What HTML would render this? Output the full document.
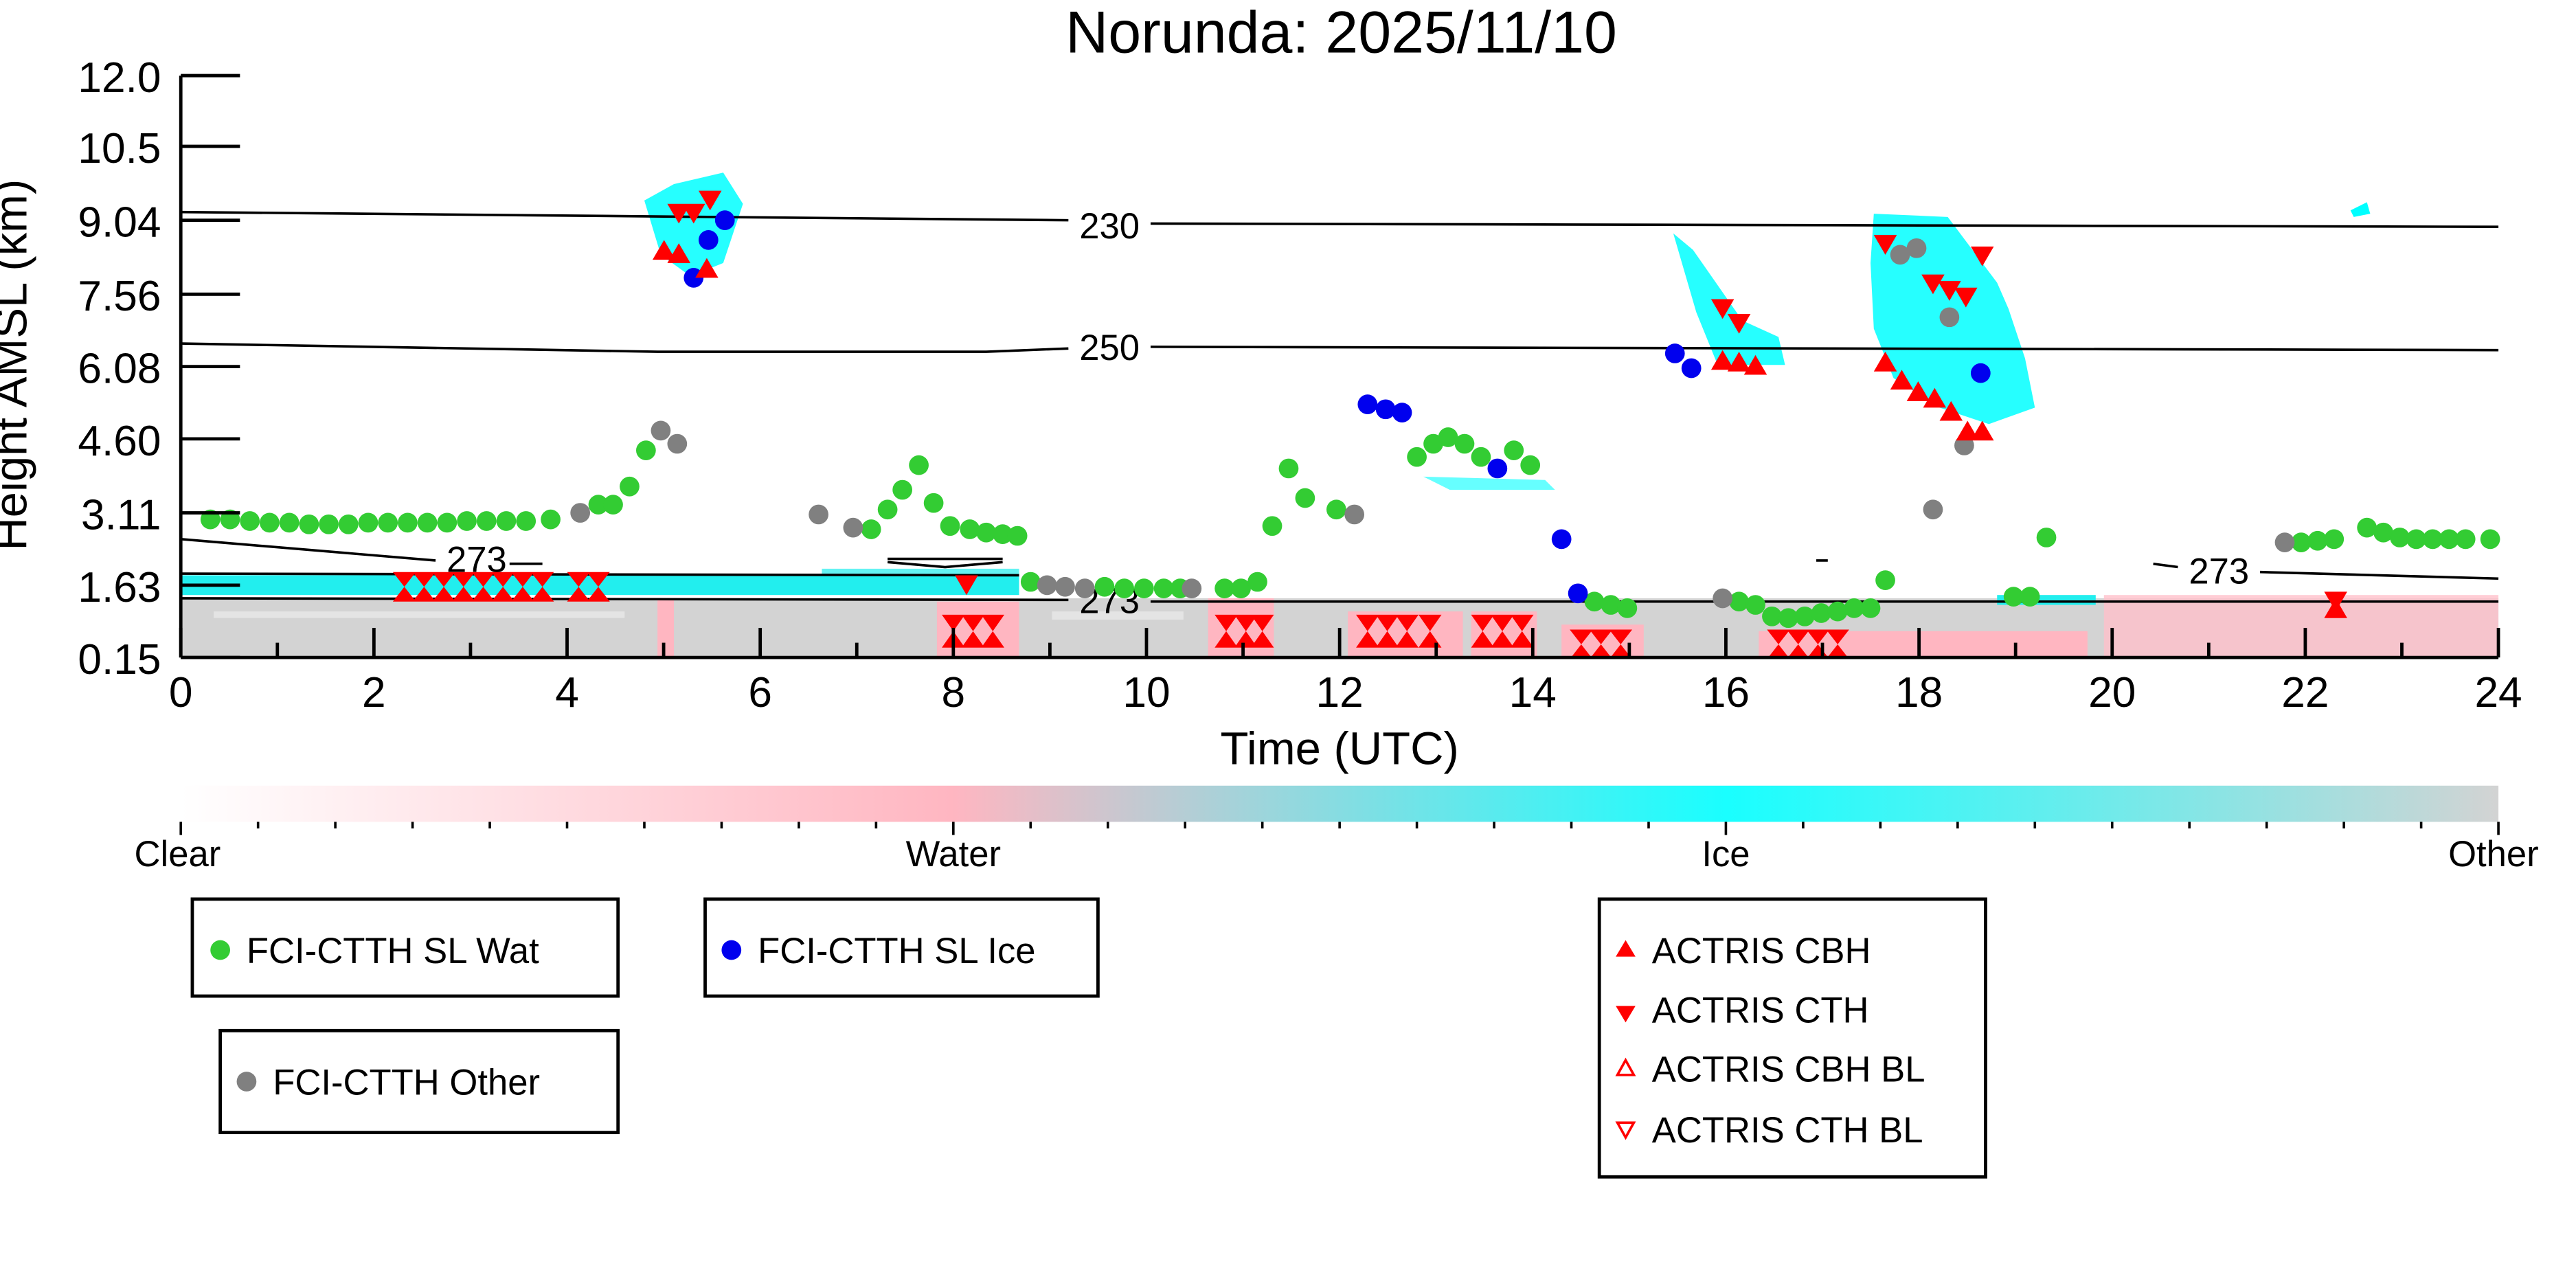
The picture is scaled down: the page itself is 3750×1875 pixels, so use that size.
<!DOCTYPE html>
<html><head><meta charset="utf-8"><style>html,body{margin:0;padding:0;background:#fff}svg{display:block}</style></head>
<body>
<svg width="3750" height="1875" viewBox="0 0 1567.2 783.6" xmlns="http://www.w3.org/2000/svg" font-family="Liberation Sans, DejaVu Sans, sans-serif">
<defs>
<linearGradient id="cb" x1="0" x2="1" y1="0" y2="0">
<stop offset="0" stop-color="#ffffff"/><stop offset="0.333" stop-color="#ffb6c1"/><stop offset="0.667" stop-color="#00ffff" stop-opacity="0.9"/><stop offset="1" stop-color="#d3d3d3"/>
</linearGradient>
</defs>
<rect width="1567.2" height="783.6" fill="#fff"/>
<text x="816" y="32" font-size="36" text-anchor="middle">Norunda: 2025/11/10</text>
<!-- lidar background -->
<rect x="110" y="364" width="1410" height="36" fill="#d3d3d3"/>
<rect x="110" y="350" width="510" height="12" fill="#22eeee"/>
<rect x="500" y="346" width="120" height="8" fill="#22eeee" opacity="0.7"/>
<rect x="400" y="364" width="10" height="36" fill="#ffb6c1"/>
<rect x="570" y="366" width="50" height="34" fill="#ffb6c1"/>
<rect x="735" y="364" width="40" height="36" fill="#ffb6c1"/>
<rect x="820" y="372" width="70" height="28" fill="#ffb6c1"/>
<rect x="895" y="372" width="40" height="28" fill="#ffb6c1"/>
<rect x="950" y="380" width="50" height="20" fill="#ffb6c1"/>
<rect x="1070" y="384" width="200" height="16" fill="#ffb6c1"/>
<rect x="1280" y="362" width="240" height="38" fill="#ffc0cb" opacity="0.8"/>
<rect x="1215" y="362" width="60" height="6" fill="#22eeee"/>
<rect x="130" y="372" width="250" height="4" fill="#fff" opacity="0.4"/>
<rect x="640" y="372" width="80" height="5" fill="#fff" opacity="0.4"/>
<!-- cyan blobs -->
<polygon points="392,122 410,112 440,105 452,124 440,160 420,168 402,155" fill="#00ffff" opacity="0.85"/>
<polygon points="1018,142 1030,152 1060,195 1082,205 1086,222 1045,222 1032,190" fill="#00ffff" opacity="0.85"/>
<polygon points="1140,130 1185,132 1215,172 1222,188 1232,218 1238,248 1210,258 1180,248 1152,230 1140,200 1138,160" fill="#00ffff" opacity="0.85"/>
<polygon points="1430,128 1440,123 1442,130 1432,132" fill="#00ffff"/>
<polygon points="866,290 940,292 946,298 882,298" fill="#00ffff" opacity="0.6"/>
<!-- contours -->
<g fill="none" stroke="#000" stroke-width="1.5">
<path d="M110,129 L650,134 M700,136 L1520,138"/>
<path d="M110,209 L400,214 L600,214 L650,212 M700,211 L1520,213"/>
<path d="M110,328 L265,341 M310,343 L330,343"/>
<path d="M110,349 L620,350"/>
<path d="M540,340 L610,340 M540,342 L575,345 L610,342"/>
<path d="M110,364 L650,365 M700,366 L1520,366"/>
<path d="M1310,343 L1325,345 M1375,348 L1520,352"/>
<path d="M1105,341 L1112,341"/>
</g>
<g font-size="22" text-anchor="middle">
<text x="675" y="145">230</text><text x="675" y="219">250</text>
<text x="290" y="348">273</text><text x="675" y="373">273</text><text x="1350" y="355">273</text>
</g>
<!-- points -->
<g fill="#33cc33">
<circle cx="128" cy="316" r="6"/><circle cx="140" cy="316" r="6"/><circle cx="152" cy="317" r="6"/><circle cx="164" cy="318" r="6"/><circle cx="176" cy="318" r="6"/><circle cx="188" cy="319" r="6"/><circle cx="200" cy="319" r="6"/><circle cx="212" cy="319" r="6"/><circle cx="224" cy="318" r="6"/><circle cx="236" cy="318" r="6"/><circle cx="248" cy="318" r="6"/><circle cx="260" cy="318" r="6"/><circle cx="272" cy="318" r="6"/><circle cx="284" cy="317" r="6"/><circle cx="296" cy="317" r="6"/><circle cx="308" cy="317" r="6"/><circle cx="320" cy="317" r="6"/><circle cx="335" cy="316" r="6"/>
<circle cx="364" cy="307" r="6"/><circle cx="373" cy="307" r="6"/><circle cx="383" cy="296" r="6"/><circle cx="393" cy="274" r="6"/>
<circle cx="530" cy="322" r="6"/><circle cx="540" cy="310" r="6"/><circle cx="549" cy="298" r="6"/><circle cx="559" cy="283" r="6"/><circle cx="568" cy="306" r="6"/><circle cx="578" cy="320" r="6"/><circle cx="590" cy="322" r="6"/><circle cx="600" cy="324" r="6"/><circle cx="610" cy="325" r="6"/><circle cx="619" cy="326" r="6"/>
<circle cx="627" cy="354" r="6"/><circle cx="672" cy="357" r="6"/><circle cx="684" cy="358" r="6"/><circle cx="696" cy="358" r="6"/><circle cx="708" cy="358" r="6"/><circle cx="718" cy="358" r="6"/>
<circle cx="745" cy="358" r="6"/><circle cx="755" cy="358" r="6"/><circle cx="765" cy="354" r="6"/><circle cx="774" cy="320" r="6"/><circle cx="784" cy="285" r="6"/><circle cx="794" cy="303" r="6"/><circle cx="813" cy="310" r="6"/>
<circle cx="862" cy="278" r="6"/><circle cx="872" cy="270" r="6"/><circle cx="881" cy="266" r="6"/><circle cx="891" cy="270" r="6"/><circle cx="901" cy="278" r="6"/><circle cx="921" cy="274" r="6"/><circle cx="931" cy="283" r="6"/>
<circle cx="970" cy="366" r="6"/><circle cx="980" cy="368" r="6"/><circle cx="990" cy="370" r="6"/>
<circle cx="1058" cy="366" r="6"/><circle cx="1068" cy="368" r="6"/><circle cx="1078" cy="375" r="6"/><circle cx="1088" cy="376" r="6"/><circle cx="1098" cy="375" r="6"/><circle cx="1108" cy="373" r="6"/><circle cx="1118" cy="372" r="6"/><circle cx="1128" cy="370" r="6"/><circle cx="1138" cy="370" r="6"/><circle cx="1147" cy="353" r="6"/>
<circle cx="1225" cy="363" r="6"/><circle cx="1235" cy="363" r="6"/><circle cx="1245" cy="327" r="6"/>
<circle cx="1400" cy="330" r="6"/><circle cx="1410" cy="329" r="6"/><circle cx="1420" cy="328" r="6"/><circle cx="1440" cy="321" r="6"/><circle cx="1450" cy="324" r="6"/><circle cx="1460" cy="327" r="6"/><circle cx="1470" cy="328" r="6"/><circle cx="1480" cy="328" r="6"/><circle cx="1490" cy="328" r="6"/><circle cx="1500" cy="328" r="6"/><circle cx="1515" cy="328" r="6"/>
</g>
<g fill="#808080">
<circle cx="353" cy="312" r="6"/><circle cx="402" cy="262" r="6"/><circle cx="412" cy="270" r="6"/><circle cx="498" cy="313" r="6"/><circle cx="519" cy="321" r="6"/>
<circle cx="637" cy="356" r="6"/><circle cx="648" cy="357" r="6"/><circle cx="660" cy="358" r="6"/><circle cx="725" cy="358" r="6"/><circle cx="824" cy="313" r="6"/><circle cx="1048" cy="364" r="6"/>
<circle cx="1156" cy="155" r="6"/><circle cx="1166" cy="151" r="6"/><circle cx="1186" cy="193" r="6"/><circle cx="1195" cy="271" r="6"/><circle cx="1176" cy="310" r="6"/><circle cx="1390" cy="330" r="6"/>
</g>
<g fill="#0000ee">
<circle cx="422" cy="169" r="6"/><circle cx="431" cy="146" r="6"/><circle cx="441" cy="134" r="6"/><circle cx="832" cy="246" r="6"/><circle cx="843" cy="249" r="6"/><circle cx="853" cy="251" r="6"/><circle cx="911" cy="285" r="6"/><circle cx="950" cy="328" r="6"/><circle cx="960" cy="361" r="6"/><circle cx="1019" cy="215" r="6"/><circle cx="1029" cy="224" r="6"/><circle cx="1205" cy="227" r="6"/>
</g>
<g fill="#ff0000">
<path d="M404,146 l7,12 h-14z M413,148 l7,12 h-14z M430,157 l7,12 h-14z M1048,213 l7,12 h-14z M1058,214 l7,12 h-14z M1068,216 l7,12 h-14z M1147,214 l7,12 h-14z M1157,225 l7,12 h-14z M1167,232 l7,12 h-14z M1177,236 l7,12 h-14z M1187,244 l7,12 h-14z M1197,256 l7,12 h-14z M1206,256 l7,12 h-14z M1421,364 l7,12 h-14z"/>
<path d="M413,136 l7,-12 h-14z M422,136 l7,-12 h-14z M432,128 l7,-12 h-14z M1048,194 l7,-12 h-14z M1058,203 l7,-12 h-14z M1147,155 l7,-12 h-14z M1176,179 l7,-12 h-14z M1186,183 l7,-12 h-14z M1196,187 l7,-12 h-14z M1206,162 l7,-12 h-14z M588,362 l7,-12 h-14z M1421,372 l7,-12 h-14z"/>
<g transform="translate(0,357)">
<path d="M246,0 l7,-9 h-14z M246,0 l7,9 h-14z M258,0 l7,-9 h-14z M258,0 l7,9 h-14z M270,0 l7,-9 h-14z M270,0 l7,9 h-14z M282,0 l7,-9 h-14z M282,0 l7,9 h-14z M294,0 l7,-9 h-14z M294,0 l7,9 h-14z M306,0 l7,-9 h-14z M306,0 l7,9 h-14z M318,0 l7,-9 h-14z M318,0 l7,9 h-14z M330,0 l7,-9 h-14z M330,0 l7,9 h-14z M352,0 l7,-9 h-14z M352,0 l7,9 h-14z M364,0 l7,-9 h-14z M364,0 l7,9 h-14z"/>
</g>
<g transform="translate(0,384)">
<path d="M580,0 l7,-10 h-14z M580,0 l7,10 h-14z M592,0 l7,-10 h-14z M592,0 l7,10 h-14z M604,0 l7,-10 h-14z M604,0 l7,10 h-14z M746,0 l7,-10 h-14z M746,0 l7,10 h-14z M758,0 l7,-10 h-14z M758,0 l7,10 h-14z M768,0 l7,-10 h-14z M768,0 l7,10 h-14z M832,0 l7,-10 h-14z M832,0 l7,10 h-14z M844,0 l7,-10 h-14z M844,0 l7,10 h-14z M856,0 l7,-10 h-14z M856,0 l7,10 h-14z M870,0 l7,-10 h-14z M870,0 l7,10 h-14z M902,0 l7,-10 h-14z M902,0 l7,10 h-14z M914,0 l7,-10 h-14z M914,0 l7,10 h-14z M926,0 l7,-10 h-14z M926,0 l7,10 h-14z"/>
</g>
<g transform="translate(0,392)">
<path d="M962,0 l7,-9 h-14z M962,0 l7,9 h-14z M974,0 l7,-9 h-14z M974,0 l7,9 h-14z M986,0 l7,-9 h-14z M986,0 l7,9 h-14z M1082,0 l7,-9 h-14z M1082,0 l7,9 h-14z M1094,0 l7,-9 h-14z M1094,0 l7,9 h-14z M1106,0 l7,-9 h-14z M1106,0 l7,9 h-14z M1118,0 l7,-9 h-14z M1118,0 l7,9 h-14z"/>
</g>
</g>
<!-- axes -->
<g stroke="#000" stroke-width="2">
<line x1="110" y1="46" x2="110" y2="400"/>
<line x1="110" y1="400" x2="1520" y2="400"/>
<path d="M110,46 h36 M110,89 h36 M110,134 h36 M110,179 h36 M110,223 h36 M110,267 h36 M110,312 h36 M110,356 h36 M110,400 h36"/>
<path d="M110,400 v-18 M227.5,400 v-18 M345,400 v-18 M462.5,400 v-18 M580,400 v-18 M697.5,400 v-18 M815,400 v-18 M932.5,400 v-18 M1050,400 v-18 M1167.5,400 v-18 M1285,400 v-18 M1402.5,400 v-18 M1520,400 v-18"/>
<path d="M168.75,400 v-9 M286.25,400 v-9 M403.75,400 v-9 M521.25,400 v-9 M638.75,400 v-9 M756.25,400 v-9 M873.75,400 v-9 M991.25,400 v-9 M1108.75,400 v-9 M1226.25,400 v-9 M1343.75,400 v-9 M1461.25,400 v-9"/>
</g>
<g font-size="26" text-anchor="end">
<text x="98" y="56">12.0</text><text x="98" y="99">10.5</text><text x="98" y="144">9.04</text><text x="98" y="189">7.56</text><text x="98" y="233">6.08</text><text x="98" y="277">4.60</text><text x="98" y="322">3.11</text><text x="98" y="366">1.63</text><text x="98" y="410">0.15</text>
</g>
<g font-size="26" text-anchor="middle">
<text x="110" y="430">0</text><text x="227.5" y="430">2</text><text x="345" y="430">4</text><text x="462.5" y="430">6</text><text x="580" y="430">8</text><text x="697.5" y="430">10</text><text x="815" y="430">12</text><text x="932.5" y="430">14</text><text x="1050" y="430">16</text><text x="1167.5" y="430">18</text><text x="1285" y="430">20</text><text x="1402.5" y="430">22</text><text x="1520" y="430">24</text>
</g>
<text x="815" y="465" font-size="28" text-anchor="middle">Time (UTC)</text>
<text transform="translate(16,222) rotate(-90)" font-size="28" text-anchor="middle">Height AMSL (km)</text>
<!-- colorbar -->
<rect x="110" y="478" width="1410" height="22" fill="url(#cb)"/>
<g stroke="#000" stroke-width="1.5">
<path d="M110,500 v8 M580,500 v8 M1050,500 v8 M1520,500 v8"/>
<path d="M157,500 v4 M204,500 v4 M251,500 v4 M298,500 v4 M345,500 v4 M392,500 v4 M439,500 v4 M486,500 v4 M533,500 v4 M627,500 v4 M674,500 v4 M721,500 v4 M768,500 v4 M815,500 v4 M862,500 v4 M909,500 v4 M956,500 v4 M1003,500 v4 M1097,500 v4 M1144,500 v4 M1191,500 v4 M1238,500 v4 M1285,500 v4 M1332,500 v4 M1379,500 v4 M1426,500 v4 M1473,500 v4"/>
</g>
<g font-size="22" text-anchor="middle">
<text x="108" y="527">Clear</text><text x="580" y="527">Water</text><text x="1050" y="527">Ice</text><text x="1517" y="527">Other</text>
</g>
<!-- legends -->
<g fill="#fff" stroke="#000" stroke-width="2">
<rect x="117" y="547" width="259" height="59"/>
<rect x="429" y="547" width="239" height="59"/>
<rect x="134" y="627" width="242" height="62"/>
<rect x="973" y="547" width="235" height="169"/>
</g>
<g font-size="22">
<circle cx="134" cy="578" r="6" fill="#33cc33"/><text x="150" y="586">FCI-CTTH SL Wat</text>
<circle cx="445" cy="578" r="6" fill="#0000ee"/><text x="461" y="586">FCI-CTTH SL Ice</text>
<circle cx="150" cy="658" r="6" fill="#808080"/><text x="166" y="666">FCI-CTTH Other</text>
<path d="M989,572 l6,10 h-12z" fill="#ff0000"/><text x="1005" y="586">ACTRIS CBH</text>
<path d="M989,622 l6,-10 h-12z" fill="#ff0000"/><text x="1005" y="622">ACTRIS CTH</text>
<path d="M989,645 l5,9 h-10z" fill="none" stroke="#ff0000" stroke-width="1.5"/><text x="1005" y="658">ACTRIS CBH BL</text>
<path d="M989,692 l5,-9 h-10z" fill="none" stroke="#ff0000" stroke-width="1.5"/><text x="1005" y="695">ACTRIS CTH BL</text>
</g>
</svg>
</body></html>
